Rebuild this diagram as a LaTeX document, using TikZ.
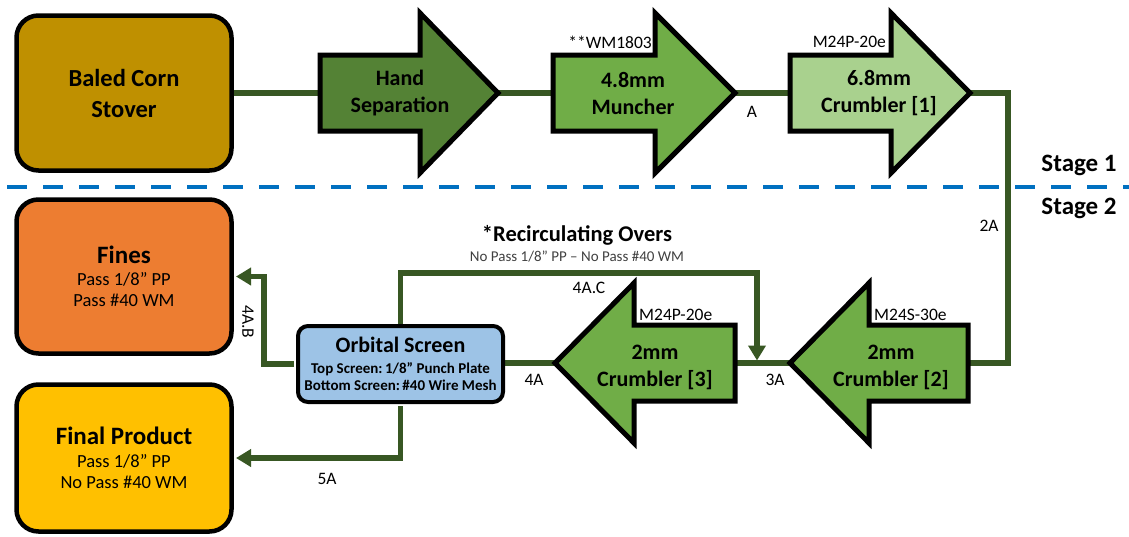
\documentclass[tikz,border=0pt]{standalone}
\usepackage{fontspec}
\setmainfont{Carlito}
\usetikzlibrary{arrows.meta}
\definecolor{cBaled}{HTML}{BF9000}
\definecolor{cHand}{HTML}{548235}
\definecolor{cMid}{HTML}{70AD47}
\definecolor{cLight}{HTML}{A9D18E}
\definecolor{cFines}{HTML}{ED7D31}
\definecolor{cFinal}{HTML}{FFC000}
\definecolor{cOrb}{HTML}{9DC3E6}
\definecolor{cLine}{HTML}{385723}
\definecolor{cDash}{HTML}{0070C0}
\definecolor{cGray}{HTML}{404040}
\pgfdeclarelayer{bg}
\pgfsetlayers{bg,main}
% #1 name, #2 tail x, #3 head base x, #4 tip x, #5 centre y, #6 fill
\newcommand\ProcArrow[6]{%
  \draw[procshape,fill=#6] (#2,{#5-38}) -- (#3,{#5-38}) -- (#3,{#5-80}) -- (#4,#5)
     -- (#3,{#5+80}) -- (#3,{#5+38}) -- (#2,{#5+38}) -- cycle;
  \coordinate (#1-in) at (#2,#5);
  \coordinate (#1-out) at (#4,#5);}
\begin{document}
\begin{tikzpicture}[x=1pt,y=-1pt,
  procshape/.style={draw=black,line width=5pt,line join=miter,miter limit=10},
  box/.style={draw=black,line width=4.5pt,rounded corners=22pt,align=center,inner sep=0pt,
              minimum width=215pt},
  proctext/.style={align=center,font=\fontsize{22}{27}\selectfont\bfseries,inner sep=0pt},
  tag/.style={font=\fontsize{17.5}{20}\selectfont,inner sep=0pt},
  flow/.style={draw=cLine,line width=5.5pt},
  flowarrow/.style={flow,-{Triangle[length=15pt,width=17pt]}},
  stage/.style={font=\fontsize{25}{30}\selectfont\bfseries,inner sep=0pt}]
\useasboundingbox (0,0) rectangle (1129,536);

% boxes
\node[box,fill=cBaled,minimum height=155pt,font=\fontsize{24.5}{31}\selectfont\bfseries]
  (baled) at (124,93) {Baled Corn\\Stover};
\node[box,fill=cFines,minimum height=154pt,font=\fontsize{18.5}{21}\selectfont]
  (fines) at (124,276.5) {{\fontsize{25}{30}\selectfont\bfseries Fines}\\[1.5pt]Pass 1/8” PP\\Pass \#40 WM};
\node[box,fill=cFinal,minimum height=147pt,font=\fontsize{18.5}{21}\selectfont]
  (final) at (124,458) {{\fontsize{25}{30}\selectfont\bfseries Final Product}\\[2.5pt]Pass 1/8” PP\\No Pass \#40 WM};
\node[box,fill=cOrb,minimum width=205pt,minimum height=76pt,rounded corners=10pt,line width=4pt,
      font=\fontsize{15}{17}\selectfont\bfseries]
  (orb) at (400.5,364) {{\fontsize{22}{25}\selectfont Orbital Screen}\\[4pt]Top Screen:\,1/8” Punch Plate\\Bottom Screen:\,\#40 Wire Mesh};

% process arrows
\ProcArrow{hs}{320}{420}{498}{93}{cHand}
\ProcArrow{mu}{553}{655}{735}{93}{cMid}
\ProcArrow{c1}{790}{891}{970}{93}{cLight}
\ProcArrow{c2}{968}{869}{790}{363}{cMid}
\ProcArrow{c3}{735}{634}{555}{363}{cMid}

\node[proctext] (hs-t) at (400,93) {Hand\\Separation};
\node[proctext] (mu-t) at (633,93) {4.8mm\\Muncher};
\node[proctext] (c1-t) at (879,93) {6.8mm\\Crumbler [1]};
\node[proctext] (c2-t) at (891,367) {2mm\\Crumbler [2]};
\node[proctext] (c3-t) at (655,367) {2mm\\Crumbler [3]};

% tags and labels
\node[tag,anchor=east] (mu-tag) at (652,42) {**WM1803};
\node[tag,anchor=east] (c1-tag) at (886,42) {M24P-20e};
\node[tag,anchor=west] (c3-tag) at (639,315) {M24P-20e};
\node[tag,anchor=west] (c2-tag) at (874,315) {M24S-30e};
\node[tag] (lA) at (752,112) {A};
\node[tag] (l2A) at (989,226) {2A};
\node[tag] (l3A) at (775,380) {3A};
\node[tag] (l4A) at (534,380) {4A};
\node[tag] (l4AC) at (589,288) {4A.C};
\node[tag] (l5A) at (327,479) {5A};
\node[tag,rotate=-90] (l4AB) at (248,322) {4A.B};
\node[font=\fontsize{22.5}{26}\selectfont\bfseries,inner sep=0pt] (rc-title) at (577,235) {*Recirculating Overs};
\node[font=\fontsize{15}{18}\selectfont,text=cGray,inner sep=0pt] (rc-sub) at (577,257) {No Pass 1/8” PP – No Pass \#40 WM};
\node[stage] (s1) at (1079,165) {Stage 1};
\node[stage] (s2) at (1079,208) {Stage 2};

% helper coordinates
\coordinate (dl) at (7,187);
\coordinate (dr) at (1129,187);
\coordinate (turn) at (1008,200);
\coordinate (rc-top) at (757,273);
\coordinate (rc-join) at (757,363);
\coordinate (fb-turn) at (264,276.5);

\begin{pgfonlayer}{bg}
  \fill[white] (0,0) rectangle (1129,536);
  \draw[cDash,line width=4.5pt,dash pattern=on 20pt off 16pt] (dl) -- (dr);
  \draw[flow] (baled.east) -- (hs-in);
  \draw[flow] (hs-out) -- (mu-in);
  \draw[flow] (mu-out) -- (c1-in);
  \draw[flow] (c1-out) -| (turn) |- (c2-in);
  \draw[flow] (c2-out) -- (c3-in);
  \draw[flow] (c3-out) -- (c3-out -| orb.east);
  \draw[flowarrow,shorten >=2.5pt] (orb.north) |- (rc-top) -- (rc-join);
\end{pgfonlayer}
\draw[flowarrow,shorten <=2pt,shorten >=2.25pt] (orb.west) -| (fb-turn) -- (fines.east);
\draw[flowarrow,shorten <=2pt,shorten >=2.25pt] (orb.south) |- (final.east);
\end{tikzpicture}
\end{document}
